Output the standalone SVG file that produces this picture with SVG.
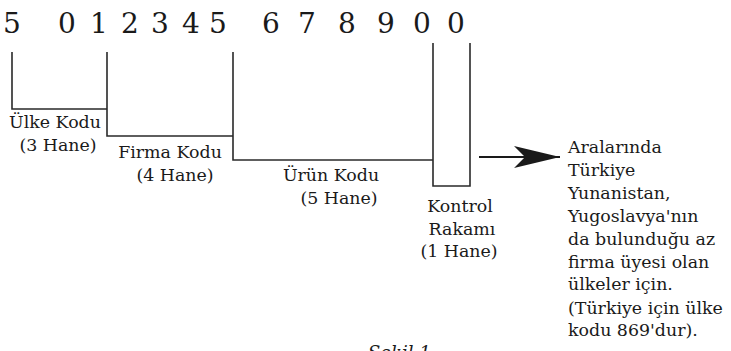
<svg xmlns="http://www.w3.org/2000/svg" width="731" height="351" viewBox="0 0 731 351">
  <style>
    .digit { font-family: "DejaVu Serif", "Liberation Serif", serif; font-size: 28px; fill: #1a1a1a; text-anchor: middle; }
    .lbl { font-family: "DejaVu Serif", "Liberation Serif", serif; font-size: 17.4px; fill: #1a1a1a; }
    .mid { text-anchor: middle; }
    .cap { font-family: "DejaVu Serif", "Liberation Serif", serif; font-size: 18px; font-style: italic; fill: #1a1a1a; }
    .bracket { fill: none; stroke: #2a2a2a; stroke-width: 1.6; stroke-linejoin: miter; }
  </style>
  <defs>
    <marker id="arrowhead" viewBox="0 0 46 22" refX="46" refY="11" markerWidth="46" markerHeight="22" markerUnits="userSpaceOnUse" orient="auto">
      <path d="M46,11 L0,0 L11,11 L0,22 Z" fill="#1a1a1a"/>
    </marker>
  </defs>
  <rect width="731" height="351" fill="#ffffff"/>

  <!-- the barcode number -->
  <g id="digits">
    <text class="digit" x="12" y="33">5</text>
    <text class="digit" x="67" y="33">0</text>
    <text class="digit" x="99" y="33">1</text>
    <text class="digit" x="130" y="33">2</text>
    <text class="digit" x="160" y="33">3</text>
    <text class="digit" x="191" y="33">4</text>
    <text class="digit" x="218" y="33">5</text>
    <text class="digit" x="271" y="33">6</text>
    <text class="digit" x="307" y="33">7</text>
    <text class="digit" x="347" y="33">8</text>
    <text class="digit" x="386" y="33">9</text>
    <text class="digit" x="422" y="33">0</text>
    <text class="digit" x="456" y="33">0</text>
  </g>

  <!-- brackets grouping the digits -->
  <g id="connectors">
    <path class="bracket" d="M12,52 V109 H107"/>
    <path class="bracket" d="M107,52 V136 H233"/>
    <path class="bracket" d="M233,52 V160 H433"/>
    <path class="bracket" d="M433,43 V186 H470 V43"/>
    <line x1="479" y1="157" x2="560" y2="157" stroke="#1a1a1a" stroke-width="1.8" marker-end="url(#arrowhead)"/>
  </g>

  <g id="ulke-kodu">
    <text class="lbl mid" x="55" y="128">Ülke Kodu</text>
    <text class="lbl mid" x="58" y="151">(3 Hane)</text>
  </g>

  <g id="firma-kodu">
    <text class="lbl mid" x="170" y="158">Firma Kodu</text>
    <text class="lbl mid" x="175" y="181">(4 Hane)</text>
  </g>

  <g id="urun-kodu">
    <text class="lbl mid" x="331" y="181">Ürün Kodu</text>
    <text class="lbl mid" x="339" y="204">(5 Hane)</text>
  </g>

  <g id="kontrol-rakami">
    <text class="lbl mid" x="460" y="212">Kontrol</text>
    <text class="lbl mid" x="462" y="235">Rakamı</text>
    <text class="lbl mid" x="459" y="257">(1 Hane)</text>
  </g>

  <g id="aciklama">
    <text class="lbl" x="568" y="153">Aralarında</text>
    <text class="lbl" x="568" y="176">Türkiye</text>
    <text class="lbl" x="568" y="199">Yunanistan,</text>
    <text class="lbl" x="568" y="222">Yugoslavya'nın</text>
    <text class="lbl" x="568" y="245">da bulunduğu az</text>
    <text class="lbl" x="568" y="268">firma üyesi olan</text>
    <text class="lbl" x="568" y="290">ülkeler için.</text>
    <text class="lbl" x="568" y="314">(Türkiye için ülke</text>
    <text class="lbl" x="568" y="336">kodu 869'dur).</text>
  </g>

  <!-- figure caption, running off the lower edge -->
  <text class="cap" x="368" y="359">Şekil 1</text>
</svg>
